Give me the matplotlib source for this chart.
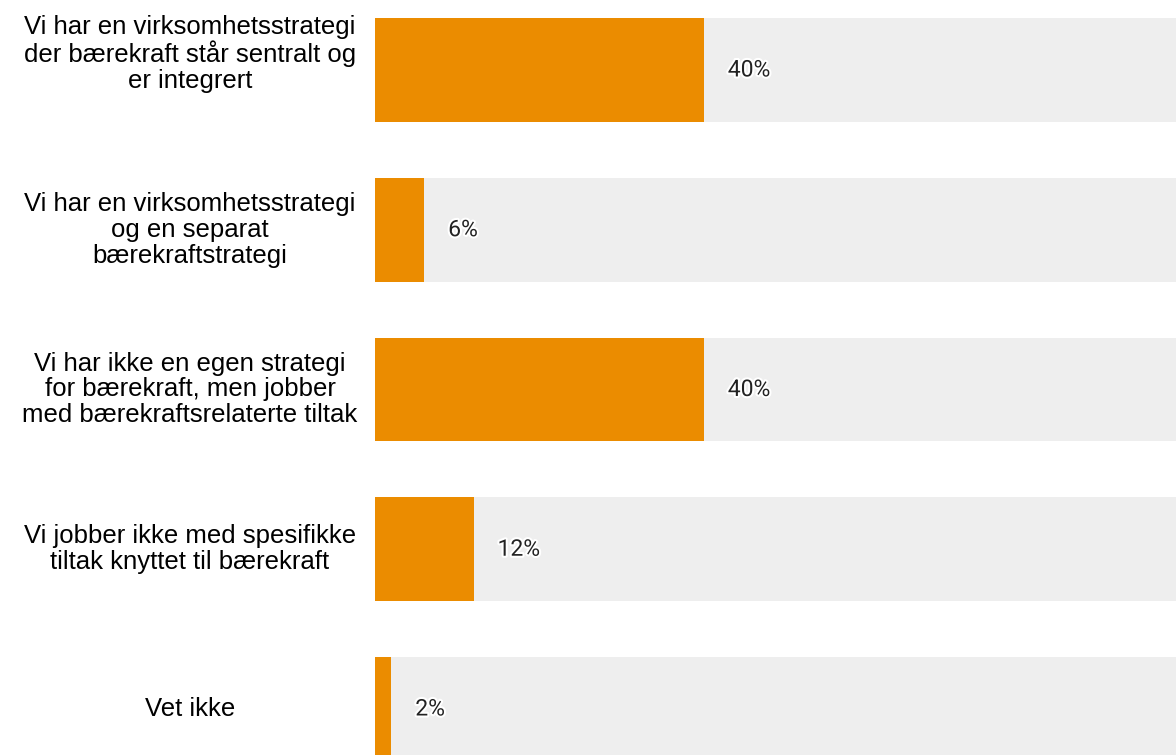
import matplotlib.pyplot as plt
import matplotlib.patheffects as pe
from matplotlib.transforms import blended_transform_factory

labels = ["Vi har en virksomhetsstrategi\nder bærekraft står sentralt og\ner integrert",
          "Vi har en virksomhetsstrategi\nog en separat\nbærekraftstrategi",
          "Vi har ikke en egen strategi\nfor bærekraft, men jobber\nmed bærekraftsrelaterte tiltak",
          "Vi jobber ikke med spesifikke\ntiltak knyttet til bærekraft",
          "Vet ikke"]
values = [40, 6, 40, 12, 2]

orange = '#EB8C00'
grey = '#EEEEEE'

fig = plt.figure(figsize=(11.76, 7.55), dpi=100)
ax = fig.add_axes([375 / 1176, 0, 1 - 375 / 1176, 1])

pos = list(range(len(values)))
ax.barh(pos, [100] * len(values), height=0.65, color=grey)
ax.barh(pos, values, height=0.65, color=orange)

ax.set_xlim(0, 97.4)
ax.set_ylim(4.288, -0.438)
ax.axis('off')

for y, v in zip(pos, values):
    ax.text(v + 2.9, y, f"{v}%", ha='left', va='center', fontsize=16.5,
            family='Roboto', color='#222222',
            path_effects=[pe.withStroke(linewidth=3, foreground='white')])

trans = blended_transform_factory(fig.transFigure, ax.transData)
for y, lab in zip(pos, labels):
    # first label sits a bit higher in the original
    dy = -0.1 if y == 0 else 0
    ax.text(190 / 1176, y + dy, lab, transform=trans, ha='center', va='center',
            fontsize=18.5, family='Liberation Sans', color='#000000', linespacing=1.1)

fig.savefig('out.png', dpi=100)
